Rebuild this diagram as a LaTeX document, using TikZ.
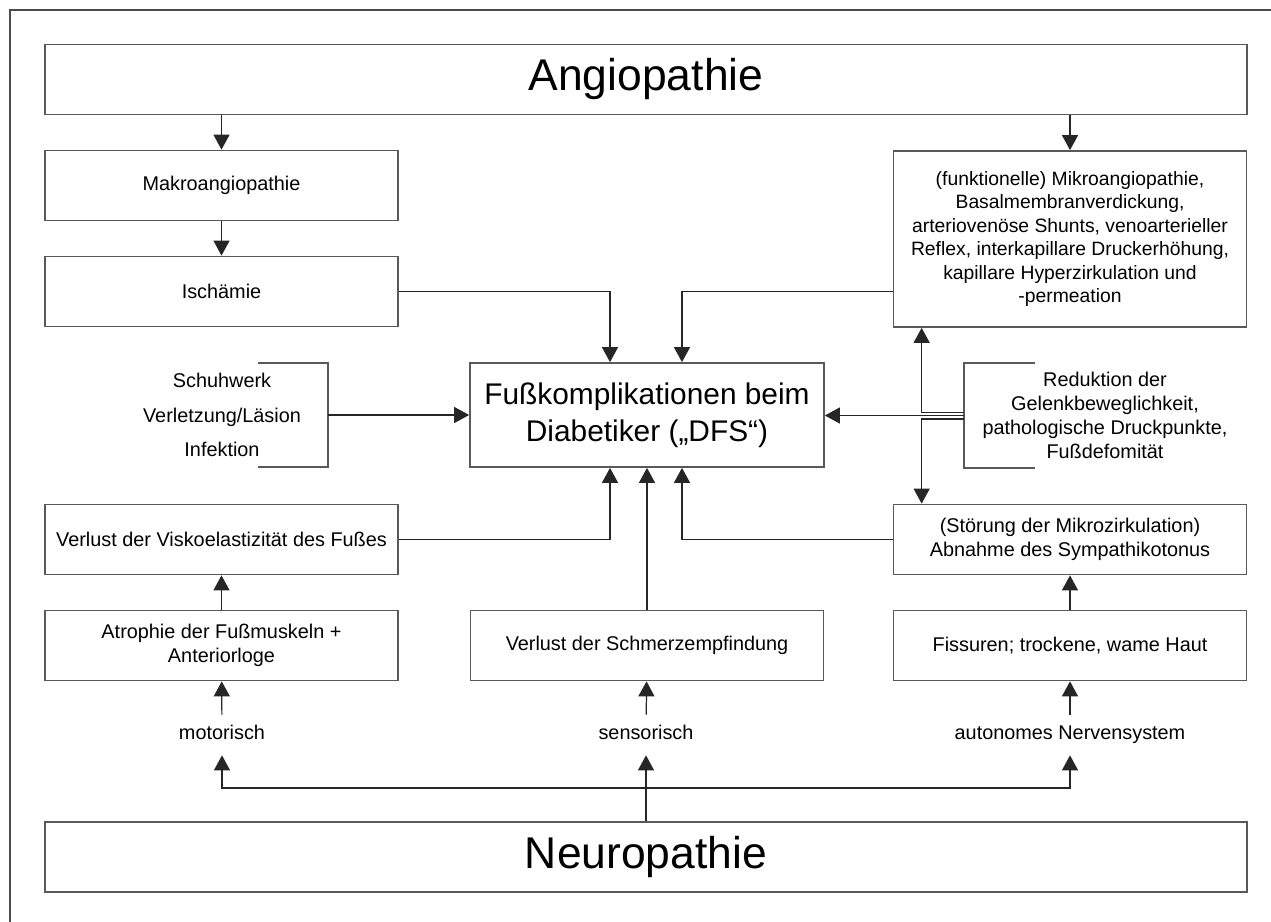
\documentclass[tikz,border=0pt]{standalone}
\usepackage{fontspec}
\setmainfont{Liberation Sans}
\usetikzlibrary{arrows.meta}

\begin{document}
\begin{tikzpicture}[x=0.02cm,y=-0.02cm,
  box/.style={draw=black!65,line width=1pt,minimum width=7.06cm,minimum height=1.4cm,align=center,
    font=\fontsize{11.3}{13.6}\selectfont},
  bigbox/.style={box,minimum width=24.04cm,font=\fontsize{25.3}{30}\selectfont},
  arr/.style={draw=black!85,line width=0.7pt,-{Triangle[width=0.32cm,length=0.3cm]}},
  lbl/.style={minimum height=0.8cm,inner sep=0pt,font=\fontsize{11.3}{13.6}\selectfont}]
\useasboundingbox (0,0) rectangle (1271,922);
\draw[black!70,line width=0.8pt] (10,922) -- (10,10) -- (1271,10);
% Kaesten
\node[bigbox] (angio) at (646,79.5) {Angiopathie};
\node[box] (makro) at (221.5,185.5) {Makroangiopathie};
\node[box] (isch) at (221.5,291.5) {Ischämie};
\node[box,minimum height=3.52cm,font=\fontsize{11}{13.4}\selectfont] (mikro) at (1070,239)
  {(funktionelle) Mikroangiopathie,\\Basalmembranverdickung,\\arteriovenöse Shunts, venoarterieller\\Reflex, interkapillare Druckerhöhung,\\kapillare Hyperzirkulation und\\-permeation};
\node[box,minimum width=7.08cm,minimum height=2.08cm,font=\fontsize{17}{21}\selectfont] (dfs) at (647,415)
  {Fußkomplikationen beim\\Diabetiker („DFS“)};
\node[lbl,minimum width=4.24cm,minimum height=2.08cm,align=center,font=\fontsize{11.3}{19.8}\selectfont] (links) at (222,415)
  {Schuhwerk\\Verletzung/Läsion\\Infektion};
\node[lbl,minimum width=5.64cm,minimum height=2.1cm,align=center,font=\fontsize{11.3}{13.8}\selectfont] (reduk) at (1105,415.5)
  {Reduktion der\\Gelenkbeweglichkeit,\\pathologische Druckpunkte,\\Fußdefomität};
\node[box] (visko) at (221.5,539.5) {Verlust der Viskoelastizität des Fußes};
\node[box] (stoer) at (1070,539.5) {(Störung der Mikrozirkulation)\\Abnahme des Sympathikotonus};
\node[box] (atro) at (221.5,645.5) {Atrophie der Fußmuskeln +\\Anteriorloge};
\node[box] (schmerz) at (647,645.5) {Verlust der Schmerzempfindung};
\node[box] (fiss) at (1070,645.5) {Fissuren; trockene, wame Haut};
\node[lbl] (mot) at (222,735) {\strut motorisch};
\node[lbl] (sens) at (646,735) {\strut sensorisch};
\node[lbl] (auto) at (1070,735) {\strut autonomes Nervensystem};
\node[bigbox] (neuro) at (646,857) {Neuropathie};
% Klammern
\draw[black!65,line width=1pt] ([xshift=-1.4cm]links.north east) -- (links.north east) -- (links.south east) -- ([xshift=-1.4cm]links.south east);
\draw[black!65,line width=1pt] ([xshift=1.42cm]reduk.north west) -- (reduk.north west) -- (reduk.south west) -- ([xshift=1.42cm]reduk.south west);
% Pfeile
\draw[arr] (angio.south -| makro) -- (makro);
\draw[arr] (angio.south -| mikro) -- (mikro);
\draw[arr] (makro) -- (isch);
\draw[arr] (isch.east) -| ([xshift=-0.74cm]dfs.north);
\draw[arr] (mikro.west |- isch.east) -| ([xshift=0.7cm]dfs.north);
\draw[arr] (links.east) -- (dfs.west);
\draw[arr] (reduk.west) -- (reduk.west -| dfs.east);
\draw[arr] ([yshift=0.056cm]reduk.west) -| ([xshift=0.58cm]mikro.south west);
\draw[arr] ([yshift=-0.07cm]reduk.west) -| ([xshift=0.58cm]stoer.north west);
\draw[arr] (visko.east) -| ([xshift=-0.74cm]dfs.south);
\draw[arr] (stoer.west) -| ([xshift=0.7cm]dfs.south);
\draw[arr] (schmerz.north -| dfs.south) -- (dfs.south);
\draw[arr] (atro) -- (visko);
\draw[arr] (fiss) -- (stoer);
\draw[arr] (mot) -- (atro);
\draw[arr] (sens) -- (schmerz);
\draw[arr] (auto) -- (fiss);
\coordinate (split) at (646,788);
\draw[arr] (neuro.north) -- (sens.south);
\draw[arr] (split) -| (mot.south);
\draw[arr] (split) -| (auto.south);
\end{tikzpicture}
\end{document}
